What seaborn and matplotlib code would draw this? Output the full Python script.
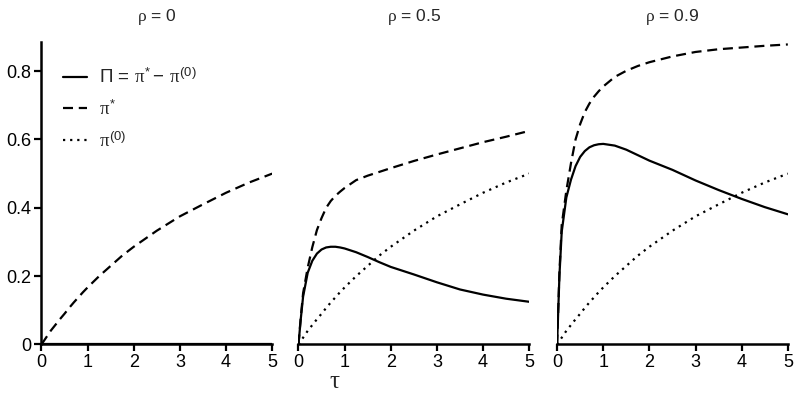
import matplotlib
matplotlib.use("Agg")
import matplotlib.pyplot as plt
import seaborn as sns
import pandas as pd

# ---- data ------------------------------------------------------------
tau = [0, 0.05, 0.1, 0.2, 0.3, 0.4, 0.5, 0.6, 0.7, 0.8, 0.9, 1.0, 1.25, 1.5,
       1.75, 2.0, 2.5, 3.0, 3.5, 4.0, 4.5, 5.0]

# pi^(0): same in every panel
pi0 = [0, 0.01, 0.02, 0.04, 0.057, 0.074, 0.09, 0.107, 0.123, 0.138, 0.153,
       0.167, 0.2, 0.23, 0.26, 0.286, 0.333, 0.375, 0.41, 0.444, 0.474, 0.5]

# rho = 0 : pi* coincides with pi^(0), Pi is zero
pstar_r0 = pi0
big_pi_r0 = [0] * len(tau)

# rho = 0.5
pstar_r05 = [0, 0.08, 0.15, 0.225, 0.285, 0.335, 0.37, 0.40, 0.42, 0.435,
             0.447, 0.458, 0.481, 0.494, 0.505, 0.516, 0.537, 0.556, 0.574,
             0.592, 0.608, 0.625]
big_pi_r05 = [0, 0.075, 0.14, 0.21, 0.245, 0.266, 0.278, 0.284, 0.286, 0.286,
              0.284, 0.281, 0.27, 0.256, 0.241, 0.227, 0.205, 0.182, 0.161,
              0.146, 0.134, 0.125]

# rho = 0.9
pstar_r09 = [0, 0.21, 0.35, 0.45, 0.53, 0.60, 0.645, 0.68, 0.705, 0.725,
             0.741, 0.755, 0.783, 0.801, 0.815, 0.826, 0.843, 0.856, 0.864,
             0.869, 0.874, 0.878]
big_pi_r09 = [0, 0.2, 0.33, 0.43, 0.482, 0.522, 0.549, 0.566, 0.577, 0.583,
              0.586, 0.587, 0.582, 0.57, 0.554, 0.538, 0.511, 0.48, 0.452,
              0.426, 0.402, 0.381]

panels = ["0", "0.5", "0.9"]
pstar = [pstar_r0, pstar_r05, pstar_r09]
big_pi = [big_pi_r0, big_pi_r05, big_pi_r09]

labels = [r"$\mathit{\Pi}\,=\,\pi^{*}-\,\pi^{(0)}$", r"$\pi^{*}$", r"$\pi^{(0)}$"]

# ---- style ------------------------------------------------------------
sns.set_style("ticks")
plt.rcParams["font.family"] = ["Liberation Sans", "DejaVu Sans"]
plt.rcParams["mathtext.fontset"] = "custom"
plt.rcParams["mathtext.rm"] = "Liberation Sans"
plt.rcParams["mathtext.it"] = "Liberation Serif"
plt.rcParams["mathtext.bf"] = "Liberation Sans:bold"

LW = 1.6
DASH = (0, (4.5, 2.6))
DOT = (0, (1, 2.2))

fig = plt.figure(figsize=(7.97, 3.99), dpi=100)
lefts = [0.052, 0.3745, 0.699]
axes = [fig.add_axes([l, 0.1366, 0.2895, 0.758]) for l in lefts]

for i, ax in enumerate(axes):
    df = pd.DataFrame({"tau": tau, "pi0": pi0, "pstar": pstar[i], "Pi": big_pi[i]})
    if i > 0:
        # in the rho = 0 panel pi^(0) lies under pi*
        sns.lineplot(data=df, x="tau", y="pi0", ax=ax, color="black", lw=LW,
                     linestyle=DOT, label=labels[2])
    else:
        ax.plot([], [], color="black", lw=LW, linestyle=DOT, label=labels[2])
    sns.lineplot(data=df, x="tau", y="pstar", ax=ax, color="black", lw=LW,
                 linestyle=DASH, label=labels[1])
    sns.lineplot(data=df, x="tau", y="Pi", ax=ax, color="black", lw=LW,
                 linestyle="-", label=labels[0])

    ax.set_xlim(0, 5)
    ax.set_ylim(0, 0.885)
    ax.set_xticks([0, 1, 2, 3, 4, 5])
    ax.set_xticklabels(["0", "1", "2", "3", "4", "5"])
    ax.set_xlabel("")
    ax.set_ylabel("")
    ax.set_title(r"$\rho\,=\,$" + panels[i], fontsize=12.5, pad=15)
    ax.tick_params(axis="both", length=5, width=1.6, labelsize=13,
                   color="black", labelcolor="black", pad=2)
    for s in ["bottom", "left"]:
        ax.spines[s].set_linewidth(1.8)
        ax.spines[s].set_color("black")
    ax.spines["top"].set_visible(False)
    ax.spines["right"].set_visible(False)

    if i == 0:
        ax.set_yticks([0, 0.2, 0.4, 0.6, 0.8])
        ax.set_yticklabels(["0", "0.2", "0.4", "0.6", "0.8"])
        h, l = ax.get_legend_handles_labels()
        ax.legend(h[::-1], l[::-1], loc="upper left", frameon=False,
                  fontsize=13.5, handlelength=1.3, handletextpad=0.6,
                  labelspacing=0.65, bbox_to_anchor=(0.02, 0.97))
    else:
        ax.spines["left"].set_visible(False)
        ax.set_yticks([])
        ax.get_legend().remove()

fig.text(0.4195, 0.045, r"$\tau$", ha="center", va="center", fontsize=18)

fig.savefig("out.png", dpi=100, facecolor="white")
